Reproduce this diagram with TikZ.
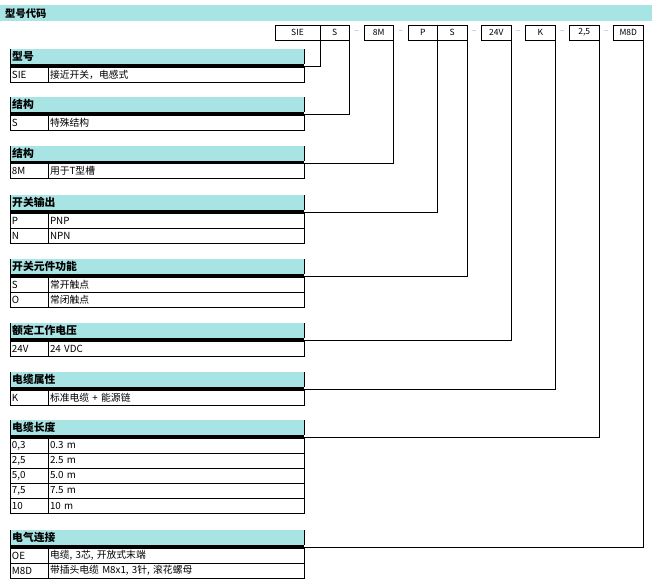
\documentclass[tikz,border=0pt]{standalone}
\usepackage{fontspec}
\setmainfont{Noto Sans CJK SC}
\usetikzlibrary{positioning}
\definecolor{bandcyan}{RGB}{168,228,228}
\definecolor{dashgray}{RGB}{150,150,150}

% Kopf eines Abschnitts: Name, obere Kante, Titel
\newcommand{\secthead}[3]{%
  \node[band] (#1) at (10,#2) {#3};
  \draw (#1.north west) -- (#1.south west) (#1.north east) -- (#1.south east);
  \draw[thickbar] ([yshift=-1.5pt]#1.south west) -- ([yshift=-1.5pt]#1.south east) coordinate (#1-bar);
}
% Zeile einer Tabelle: Name, obere Kante, Kennung, Text
\newcommand{\tabrow}[4]{%
  \node[keycell] (#1k) at (10,#2) {#3};
  \node[valcell] (#1v) at (48,#2) {#4};
}

\begin{document}
\begin{tikzpicture}[x=1pt, y=-1pt,
    band/.style={fill=bandcyan, anchor=north west, minimum height=15pt, inner xsep=2pt, inner ysep=0pt,
      text width=290pt, align=left, font=\bfseries\fontsize{10.8}{12}\selectfont},
    thickbar/.style={line width=3pt},
    cell/.style={draw, line width=0.8pt, anchor=north west, outer sep=0pt, minimum height=15pt,
      inner xsep=2pt, inner ysep=0pt, align=left, font=\fontsize{9.8}{11}\selectfont},
    keycell/.style={cell, text width=34pt},
    valcell/.style={cell, text width=252pt},
    codecell/.style={draw, line width=0.8pt, outer sep=0pt, minimum height=15pt, minimum width=29.5pt,
      inner sep=0pt, font=\fontsize{8.5}{10}\selectfont},
    sepdash/.style={outer sep=0pt, minimum width=14.5pt, minimum height=15pt, inner sep=0pt,
      text=dashgray, font=\fontsize{8}{10}\selectfont},
    link/.style={line width=0.8pt}]
  \useasboundingbox (0,0) rectangle (657,587);

  % Titelbalken
  \node[fill=bandcyan, anchor=north west, minimum height=16pt, inner xsep=5pt, inner ysep=0pt,
    text width=642pt, align=left, font=\bfseries\fontsize{10.3}{12}\selectfont] (head) at (0,5) {型号代码};

  % Bestellschluessel
  \node[codecell, anchor=north west, minimum width=45pt] (cSIE) at (275,25) {SIE};
  \node[codecell, right=0pt of cSIE] (cS) {S};
  \node[sepdash, right=0pt of cS] (d1) {–};
  \node[codecell, right=0pt of d1] (cM) {8M};
  \node[sepdash, right=0pt of cM] (d2) {–};
  \node[codecell, right=0pt of d2] (cP) {P};
  \node[codecell, right=0pt of cP] (cSo) {S};
  \node[sepdash, right=0pt of cSo] (d3) {–};
  \node[codecell, right=0pt of d3] (cV) {24V};
  \node[sepdash, right=0pt of cV] (d4) {–};
  \node[codecell, right=0pt of d4] (cK) {K};
  \node[sepdash, right=0pt of cK] (d5) {–};
  \node[codecell, right=0pt of d5] (cL) {2,5};
  \node[sepdash, right=0pt of cL] (d6) {–};
  \node[codecell, right=0pt of d6] (cE) {M8D};

  % Tabellen
  \secthead{typ}{49}{型号}
  \tabrow{typa}{67}{SIE}{接近开关，电感式}

  \secthead{bau}{97}{结构}
  \tabrow{baua}{115}{S}{特殊结构}

  \secthead{nut}{146}{结构}
  \tabrow{nuta}{163}{8M}{用于T型槽}

  \secthead{aus}{195}{开关输出}
  \tabrow{ausa}{213}{P}{PNP}
  \tabrow{ausb}{228}{N}{NPN}

  \secthead{fkt}{259}{开关元件功能}
  \tabrow{fkta}{277}{S}{常开触点}
  \tabrow{fktb}{292}{O}{常闭触点}

  \secthead{spg}{323}{额定工作电压}
  \tabrow{spga}{341}{24V}{24 VDC}

  \secthead{kab}{372}{电缆属性}
  \tabrow{kaba}{390}{K}{标准电缆 + 能源链}

  \secthead{len}{420}{电缆长度}
  \tabrow{lena}{438}{0,3}{0.3 m}
  \tabrow{lenb}{453}{2,5}{2.5 m}
  \tabrow{lenc}{468}{5,0}{5.0 m}
  \tabrow{lend}{483}{7,5}{7.5 m}
  \tabrow{lene}{498}{10}{10 m}

  \secthead{ans}{530}{电气连接}
  \tabrow{ansa}{548}{OE}{电缆, 3芯, 开放式末端}
  \tabrow{ansb}{563}{M8D}{带插头电缆 M8x1, 3针, 滚花螺母}

  % Verbindungslinien
  \draw[link] (cSIE.south east) |- (typ-bar);
  \draw[link] (cS.south east) |- (bau-bar);
  \draw[link] (cM.south east) |- (nut-bar);
  \draw[link] (cP.south east) |- (aus-bar);
  \draw[link] (cSo.south east) |- (fkt-bar);
  \draw[link] (cV.south east) |- (spg-bar);
  \draw[link] (cK.south east) |- (kab-bar);
  \draw[link] (cL.south east) |- (len-bar);
  \draw[link] (cE.south east) |- (ans-bar);
\end{tikzpicture}
\end{document}
